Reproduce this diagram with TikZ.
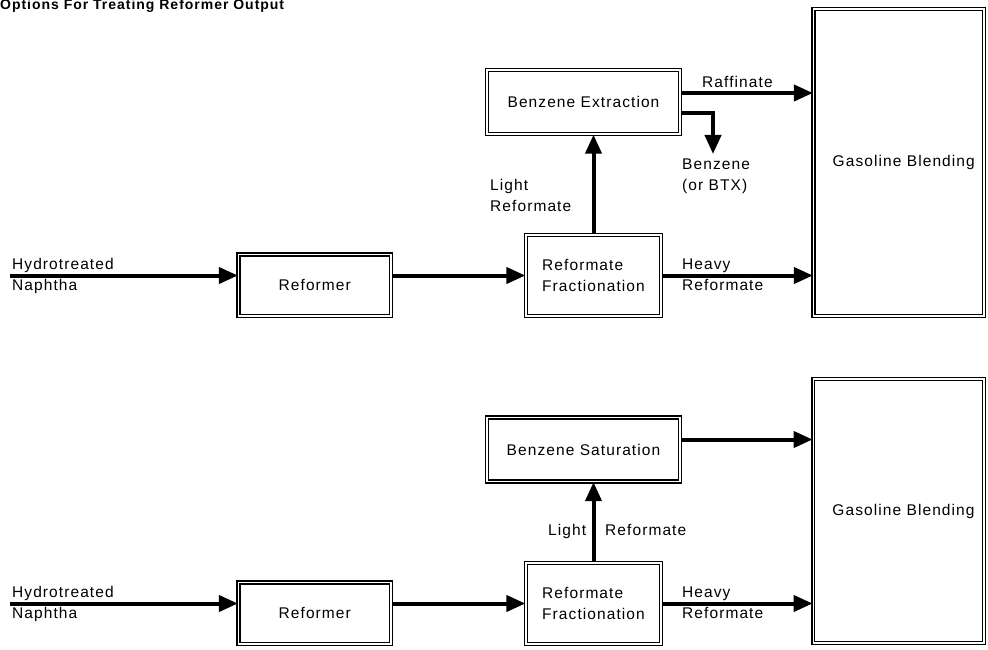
\documentclass[tikz,border=0pt]{standalone}
\usepackage{fontspec}
\setmainfont{Liberation Sans}[LetterSpace=7]
\usetikzlibrary{arrows.meta}
\begin{document}
\begin{tikzpicture}[x=1pt,y=-1pt,
  font=\fontsize{15.5pt}{21pt}\selectfont,
  box/.style={draw, double, double distance=1.5pt, line width=1.3pt, inner sep=0pt, align=center},
  flow/.style={line width=4pt, -{Triangle[length=19pt,width=16pt]}},
  lbl/.style={anchor=base west, inner sep=0pt}]
\clip (0,0) rectangle (988,650);
\node[lbl, font=\bfseries\fontsize{14pt}{16pt}\selectfont] (title) at (0,9.5) {Options For Treating Reformer Output};

% ---------- top option ----------
\node[box, minimum width=193pt, minimum height=64pt] (ext) at (583.5,102) {Benzene Extraction};
\node[box, minimum width=152.5pt, minimum height=61.5pt] (ref1) at (314.75,285.25) {Reformer};
\node[box, minimum width=135pt, minimum height=81pt, align=left] (frac1) at (593.5,275.5) {Reformate\\Fractionation};
\node[box, minimum width=170.5pt, minimum height=307pt] (gb1) at (898.75,162.5) {\hspace*{10pt}Gasoline Blending};

\coordinate (src1) at (10,275.5);
\coordinate (bz) at (713,154);

\draw[flow] (src1) -- (src1 -| ref1.west);
\draw[flow] (ref1.east |- frac1.west) -- (frac1.west);
\draw[flow] (frac1.east) -- (frac1.east -| gb1.west);
\draw[flow] (frac1.north) -- (frac1.north |- ext.south);
\draw[flow] ([yshift=9pt]ext.east) -- ([yshift=9pt]ext.east -| gb1.west);
\draw[flow] ([yshift=-11pt]ext.east) -| (bz);

\node[lbl] (hyd1) at (12,269) {Hydrotreated};
\node[lbl] (nap1) at (12,290) {Naphtha};
\node[lbl] (hvy1) at (682,269) {Heavy};
\node[lbl] (hrf1) at (682,290) {Reformate};
\node[lbl] (raf) at (702,88) {Raffinate};
\node[lbl] (bzn) at (682,169) {Benzene};
\node[lbl] (btx) at (682,190) {(or BTX)};
\node[lbl] (lt1) at (490,190) {Light};
\node[lbl] (lrf1) at (490,211) {Reformate};

% ---------- bottom option ----------
\node[box, minimum width=193pt, minimum height=64pt] (sat) at (583.5,449.5) {Benzene Saturation};
\node[box, minimum width=152.5pt, minimum height=61.5pt] (ref2) at (314.75,613.25) {Reformer};
\node[box, minimum width=135pt, minimum height=81pt, align=left] (frac2) at (593.5,603.5) {Reformate\\Fractionation};
\node[box, minimum width=170.5pt, minimum height=264pt] (gb2) at (898.5,511) {\hspace*{10pt}Gasoline Blending};

\coordinate (src2) at (10,603.5);

\draw[flow] (src2) -- (src2 -| ref2.west);
\draw[flow] (ref2.east |- frac2.west) -- (frac2.west);
\draw[flow] (frac2.east) -- (frac2.east -| gb2.west);
\draw[flow] (frac2.north) -- (frac2.north |- sat.south);
\draw[flow] ([yshift=10pt]sat.east) -- ([yshift=10pt]sat.east -| gb2.west);

\node[lbl] (hyd2) at (12,597) {Hydrotreated};
\node[lbl] (nap2) at (12,618) {Naphtha};
\node[lbl] (hvy2) at (682,597) {Heavy};
\node[lbl] (hrf2) at (682,618) {Reformate};
\node[lbl] (lt2) at (548,535) {Light};
\node[lbl] (lrf2) at (605,535) {Reformate};
\end{tikzpicture}
\end{document}
